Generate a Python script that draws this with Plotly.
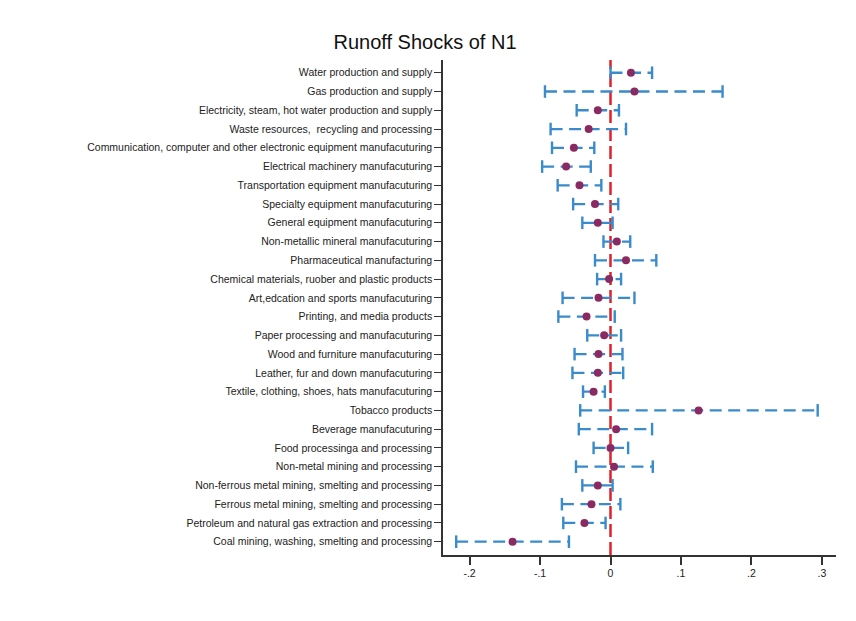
import plotly.graph_objects as go

categories = [
    "Water production and supply",
    "Gas production and supply",
    "Electricity, steam, hot water production and supply",
    "Waste resources,  recycling and processing",
    "Communication, computer and other electronic equipment manufacuturing",
    "Electrical machinery manufacuturing",
    "Transportation equipment manufacuturing",
    "Specialty equipment manufacuturing",
    "General equipment manufacuturing",
    "Non-metallic mineral manufacuturing",
    "Pharmaceutical manufacturing",
    "Chemical materials, ruober and plastic products",
    "Art,edcation and sports manufacuturing",
    "Printing, and media products",
    "Paper processing and manufacuturing",
    "Wood and furniture manufacuturing",
    "Leather, fur and down manufacuturing",
    "Textile, clothing, shoes, hats manufacuturing",
    "Tobacco products",
    "Beverage manufacuturing",
    "Food processinga and processing",
    "Non-metal mining and processing",
    "Non-ferrous metal mining, smelting and processing",
    "Ferrous metal mining, smelting and processing",
    "Petroleum and natural gas extraction and processing",
    "Coal mining, washing, smelting and processing",
]

estimate = [0.029, 0.034, -0.018, -0.031, -0.052, -0.063, -0.044, -0.022, -0.018, 0.009,
            0.022, -0.002, -0.017, -0.034, -0.009, -0.017, -0.018, -0.024, 0.125, 0.008,
            0.000, 0.005, -0.018, -0.027, -0.037, -0.139]
ci_low = [0.000, -0.093, -0.048, -0.085, -0.083, -0.097, -0.075, -0.053, -0.040, -0.010,
          -0.022, -0.019, -0.068, -0.074, -0.033, -0.051, -0.054, -0.039, -0.043, -0.045,
          -0.024, -0.049, -0.040, -0.069, -0.067, -0.219]
ci_high = [0.059, 0.159, 0.012, 0.022, -0.023, -0.028, -0.013, 0.011, 0.003, 0.028,
           0.065, 0.015, 0.034, 0.006, 0.015, 0.017, 0.018, -0.008, 0.294, 0.059,
           0.025, 0.060, 0.003, 0.014, -0.007, -0.059]

x_tickvals = [-0.2, -0.1, 0, 0.1, 0.2, 0.3]
x_ticktext = ["-.2", "-.1", "0", ".1", ".2", ".3"]

BLUE = "#3A8BCB"
RED_PT = "#8A2A62"
FONT = "Liberation Sans, Arial, Helvetica, sans-serif"

# dashed CI lines
lx, ly = [], []
for c, lo, hi in zip(categories, ci_low, ci_high):
    lx += [lo, hi, None]
    ly += [c, c, None]

fig = go.Figure()
fig.add_trace(go.Scatter(
    x=lx, y=ly, mode="lines",
    line=dict(color=BLUE, width=2.3, dash="12px,6.5px"),
    hoverinfo="skip", showlegend=False,
))
# caps
fig.add_trace(go.Scatter(
    x=ci_low + ci_high, y=categories + categories, mode="markers",
    marker=dict(symbol="line-ns", size=9, line=dict(color=BLUE, width=2.4)),
    hoverinfo="skip", showlegend=False,
))
# point estimates
fig.add_trace(go.Scatter(
    x=estimate, y=categories, mode="markers",
    marker=dict(color=RED_PT, size=8),
    showlegend=False,
))

fig.add_shape(type="line", x0=0, x1=0, xref="x", y0=0, y1=1, yref="paper",
              line=dict(color="#E0202A", width=2.5, dash="13px,5px"), layer="below")

fig.update_layout(
    width=856, height=621,
    margin=dict(l=443, r=20, t=60, b=66),
    paper_bgcolor="white", plot_bgcolor="white",
    font=dict(family=FONT, color="#222222"),
    title=dict(text="Runoff Shocks of N1", x=425 / 856, xanchor="center",
               y=1 - 42 / 621, yanchor="middle", yref="container",
               font=dict(size=20, color="#111111", family=FONT)),
)
fig.update_xaxes(
    range=[-0.2377, 0.320], tickvals=x_tickvals, ticktext=x_ticktext,
    showgrid=False, zeroline=False, showline=True, linecolor="#333333", linewidth=1.5,
    ticks="outside", ticklen=8, tickwidth=1.5, tickcolor="#333333",
    tickfont=dict(size=10.5, color="#222222"),
)
fig.update_yaxes(
    type="category", categoryorder="array", categoryarray=categories,
    range=[25.71, -0.68],
    showgrid=False, zeroline=False, showline=True, linecolor="#333333", linewidth=1.5,
    ticks="outside", ticklen=7, tickwidth=1.2, tickcolor="#333333",
    tickfont=dict(size=10.5, color="#222222"),
)

fig.write_html("out.html")
